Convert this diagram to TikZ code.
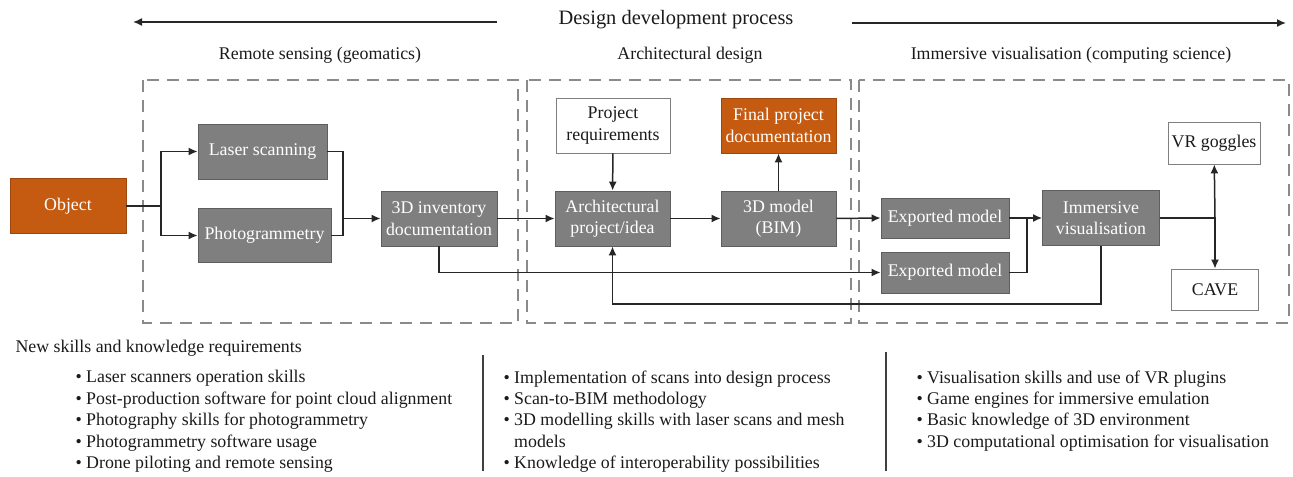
\documentclass[tikz,border=0pt]{standalone}
\usepackage{fontspec}
\setmainfont{Liberation Serif}
\usetikzlibrary{arrows.meta}
\definecolor{orng}{HTML}{C55A11}
\definecolor{gfill}{HTML}{7F7F7F}
\definecolor{gedge}{HTML}{5E5E5E}
\definecolor{dashc}{HTML}{8A8A8A}
\definecolor{txtc}{HTML}{1A1A1A}
\begin{document}
\begin{tikzpicture}[x=1bp,y=-1bp,
  every node/.style={font=\fontsize{17.9}{21.5}\selectfont, text=txtc},
  sz/.style 2 args={minimum width=#1bp, minimum height=#2bp, inner sep=0pt, align=center},
  gbox/.style={draw=gedge, fill=gfill, line width=0.8bp, text=white},
  obox/.style={draw=orng!80!black, fill=orng, line width=0.8bp, text=white},
  wbox/.style={draw=gfill, fill=white, line width=0.8bp},
  group/.style={draw=dashc, line width=2bp, dash pattern=on 12bp off 8bp},
  conn/.style={draw=black!85, line width=1.5bp},
  arr/.style={conn, -{Latex[length=9bp,width=8bp]}},
  divider/.style={draw=black!75, line width=1.2bp}
]
\useasboundingbox (0,0) rectangle (1293,477);

% title and process arrows
\node[font=\fontsize{20.5}{24}\selectfont] (title) at (676,20) {Design development process};
\coordinate (tl1) at (497,22);
\coordinate (tl2) at (133,22);
\coordinate (tr1) at (852,23);
\coordinate (tr2) at (1286,23);
\draw[arr] (tl1) -- (tl2);
\draw[arr] (tr1) -- (tr2);

% group headers
\node (h1) at (320,55) {Remote sensing (geomatics)};
\node (h2) at (690,55) {Architectural design};
\node (h3) at (1071,55) {Immersive visualisation (computing science)};

% dashed groups
\draw[group] (143,80) rectangle (518,323);
\draw[group] (527,80) rectangle (851,323);
\draw[group] (859,80) rectangle (1289,323);

% nodes
\node[obox, sz={116}{55}] (object) at (68,206) {Object};
\node[gbox, sz={129}{55}] (laser) at (262.5,151.5) {Laser scanning};
\node[gbox, sz={133}{54}] (photo) at (264.5,235.5) {Photogrammetry};
\node[gbox, sz={116}{55}] (inv) at (439,218.5) {3D inventory\\documentation};
\node[gbox, sz={115}{55}] (arch) at (612.5,218.5) {Architectural\\project/idea};
\node[wbox, sz={114}{55}] (req) at (613,125.5) {Project\\requirements};
\node[gbox, sz={115}{55}] (bim) at (778.5,218.5) {3D model\\(BIM)};
\node[obox, sz={115}{55}] (final) at (778.5,125.5) {Final project\\documentation};
\node[gbox, sz={128}{40}] (exp1) at (945,218) {Exported model};
\node[gbox, sz={128}{41}] (exp2) at (945,272.5) {Exported model};
\node[gbox, sz={117}{55}] (imm) at (1101,218) {Immersive\\visualisation};
\node[wbox, sz={92}{42}] (vr) at (1214,143) {VR goggles};
\node[wbox, sz={87}{41}] (cave) at (1215,289.5) {CAVE};

% junctions
\coordinate (j1) at (161,206);
\coordinate (j2) at (343,218.5);
\coordinate (j3) at (1027,218);
\coordinate (j4) at (1215,218);
\coordinate (j5) at (1101,304);

% connectors
\draw[conn] (object.east) -- (j1);
\draw[arr] (j1) |- (laser.west);
\draw[arr] (j1) |- (photo.west);
\draw[conn] (laser.east) -| (j2);
\draw[conn] (photo.east) -| (j2);
\draw[arr] (j2) -- (inv.west);
\draw[arr] (inv) -- (arch);
\draw[arr] (req) -- (arch);
\draw[arr] (arch) -- (bim);
\draw[arr] (bim) -- (final);
\draw[arr] (bim.east) -- (exp1.west);
\draw[arr] (exp1.east) -- (imm.west);
\draw[conn] (exp2.east) -| (j3);
\draw[conn] (imm.east) -- (j4);
\draw[arr] (j4) -- (vr);
\draw[arr] (j4) -- (cave);
\draw[arr] (inv.south) |- (exp2.west);
\draw[arr] (imm.south) -- (j5) -| (arch.south);

% skills section
\node[anchor=west] (skills) at (12,348) {New skills and knowledge requirements};
\node[anchor=north west, align=left] (list1) at (72,367) {%
• Laser scanners operation skills\\
• Post-production software for point cloud alignment\\
• Photography skills for photogrammetry\\
• Photogrammetry software usage\\
• Drone piloting and remote sensing};
\node[anchor=north west, align=left] (list2) at (500,367) {%
• Implementation of scans into design process\\
• Scan-to-BIM methodology\\
• 3D modelling skills with laser scans and mesh\\
\hphantom{• }models\\
• Knowledge of interoperability possibilities};
\node[anchor=north west, align=left] (list3) at (913,367) {%
• Visualisation skills and use of VR plugins\\
• Game engines for immersive emulation\\
• Basic knowledge of 3D environment\\
• 3D computational optimisation for visualisation};
\coordinate (d1a) at (483,355);
\coordinate (d1b) at (483,471);
\coordinate (d2a) at (886,352);
\coordinate (d2b) at (886,471);
\draw[divider] (d1a) -- (d1b);
\draw[divider] (d2a) -- (d2b);
\end{tikzpicture}
\end{document}
